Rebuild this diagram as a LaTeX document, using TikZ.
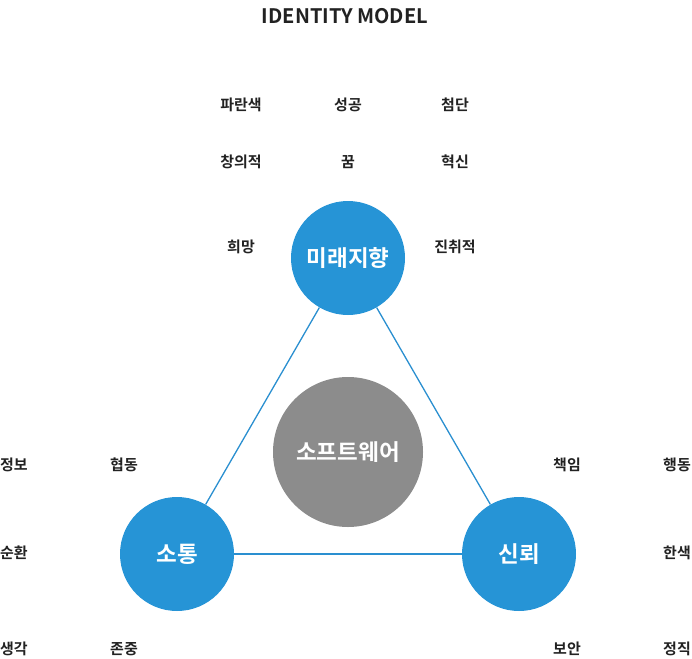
\documentclass[tikz,border=0pt]{standalone}
\usepackage{fontspec}
\setmainfont{Noto Sans CJK KR}[BoldFont={Noto Sans CJK KR Bold}]
\definecolor{cblue}{HTML}{2694D6}
\definecolor{lblue}{HTML}{2A8FD0}
\definecolor{cgray}{HTML}{8C8C8C}
\definecolor{ctext}{HTML}{222222}
\begin{document}
\begin{tikzpicture}[x=1pt,y=-1pt,
  bigc/.style={circle,fill=cblue,minimum size=114pt,inner sep=0pt,text=white,font=\bfseries\fontsize{22.5}{26}\selectfont},
  midc/.style={circle,fill=cgray,minimum size=150pt,inner sep=0pt,text=white,font=\bfseries\fontsize{22.5}{26}\selectfont},
  lbl/.style={text=ctext,font=\bfseries\fontsize{15}{17}\selectfont,inner sep=0pt},
  link/.style={draw=lblue,line width=1.3pt}]
\useasboundingbox (0,0) rectangle (692,658);
\node[text=ctext,font=\bfseries\fontsize{20}{23}\selectfont,inner sep=0pt] (title) at (345,16) {IDENTITY MODEL};
\node[midc] (sw) at (348,452) {소프트웨어};
\node[bigc] (top) at (348,258) {미래지향};
\node[bigc] (left) at (177,554) {소통};
\node[bigc] (right) at (519,554) {신뢰};
\draw[link] (top) -- (left);
\draw[link] (top) -- (right);
\draw[link] (left) -- (right);
\node[lbl] (a1) at (241,105) {파란색};
\node[lbl] (a2) at (348,105) {성공};
\node[lbl] (a3) at (455,105) {첨단};
\node[lbl] (a4) at (241,162) {창의적};
\node[lbl] (a5) at (348,162) {꿈};
\node[lbl] (a6) at (455,162) {혁신};
\node[lbl] (a7) at (241,247) {희망};
\node[lbl] (a8) at (455,247) {진취적};
\node[lbl] (b1) at (14,465) {정보};
\node[lbl] (b2) at (124,465) {협동};
\node[lbl] (b3) at (14,553) {순환};
\node[lbl] (b4) at (14,649) {생각};
\node[lbl] (b5) at (124,649) {존중};
\node[lbl] (c1) at (567,465) {책임};
\node[lbl] (c2) at (677,465) {행동};
\node[lbl] (c3) at (677,553) {한색};
\node[lbl] (c4) at (567,649) {보안};
\node[lbl] (c5) at (677,649) {정직};
\end{tikzpicture}
\end{document}
